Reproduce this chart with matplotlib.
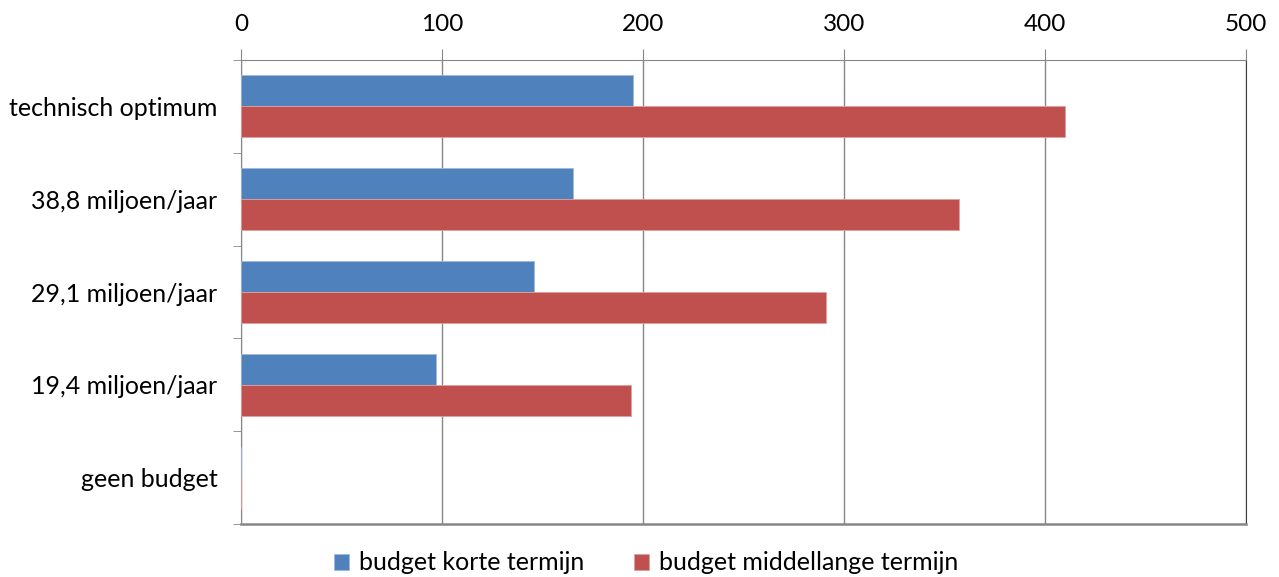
#!/usr/bin/env python3

# Horizontal bar chart: budget per scenario, short vs medium term.

import matplotlib
matplotlib.use("Agg")
import matplotlib.pyplot as plt
import numpy as np

categories = ["technisch optimum", "38,8 miljoen/jaar", "29,1 miljoen/jaar",
              "19,4 miljoen/jaar", "geen budget"]
korte_termijn = [195, 165, 146, 97, 0]
middellange_termijn = [410, 357, 291, 194, 0]
series_labels = ["budget korte termijn", "budget middellange termijn"]
x_ticks = [0, 100, 200, 300, 400, 500]

BLUE = "#4F81BD"
RED = "#C0504D"
GRID = "#868686"

plt.rcParams["font.family"] = ["Lato", "DejaVu Sans"]

fig = plt.figure(figsize=(12.79, 5.77), dpi=100)
ax = fig.add_axes([241 / 1279, 1 - 524 / 577, (1246 - 241) / 1279, (524 - 60) / 577])

y = np.arange(len(categories))
h = 1 / 3
ax.barh(y - h / 2, korte_termijn, h, color=BLUE, edgecolor="#9fb8dc",
        linewidth=0.6, label=series_labels[0], zorder=3)
ax.barh(y + h / 2, middellange_termijn, h, color=RED, edgecolor="#e0a09e",
        linewidth=0.6, label=series_labels[1], zorder=3)

ax.set_xlim(0, 500)
ax.set_ylim(len(categories) - 0.5, -0.5)

ax.xaxis.tick_top()
ax.set_xticks(x_ticks)
ax.set_xticklabels([str(t) for t in x_ticks], fontsize=17.5)
ax.tick_params(axis="x", length=8, color=GRID, pad=10)
ax.grid(axis="x", color=GRID, linewidth=1, zorder=0)

ax.set_yticks(y)
ax.set_yticklabels(categories, fontsize=18)
ax.set_yticks(np.arange(len(categories) + 1) - 0.5, minor=True)
ax.tick_params(axis="y", which="major", length=0, pad=17)
ax.tick_params(axis="y", which="minor", length=6, color=GRID)

for side in ["top", "left"]:
    ax.spines[side].set_color(GRID)
ax.spines["bottom"].set_color(GRID)
ax.spines["bottom"].set_linewidth(1.8)
ax.spines["right"].set_color("#404040")

fig.legend(loc="center", bbox_to_anchor=(0.505, 1 - 563 / 577), ncol=2,
           frameon=False, fontsize=18, handlelength=0.6, handleheight=0.6,
           handletextpad=0.4, columnspacing=2.0)

fig.savefig("out.png")
